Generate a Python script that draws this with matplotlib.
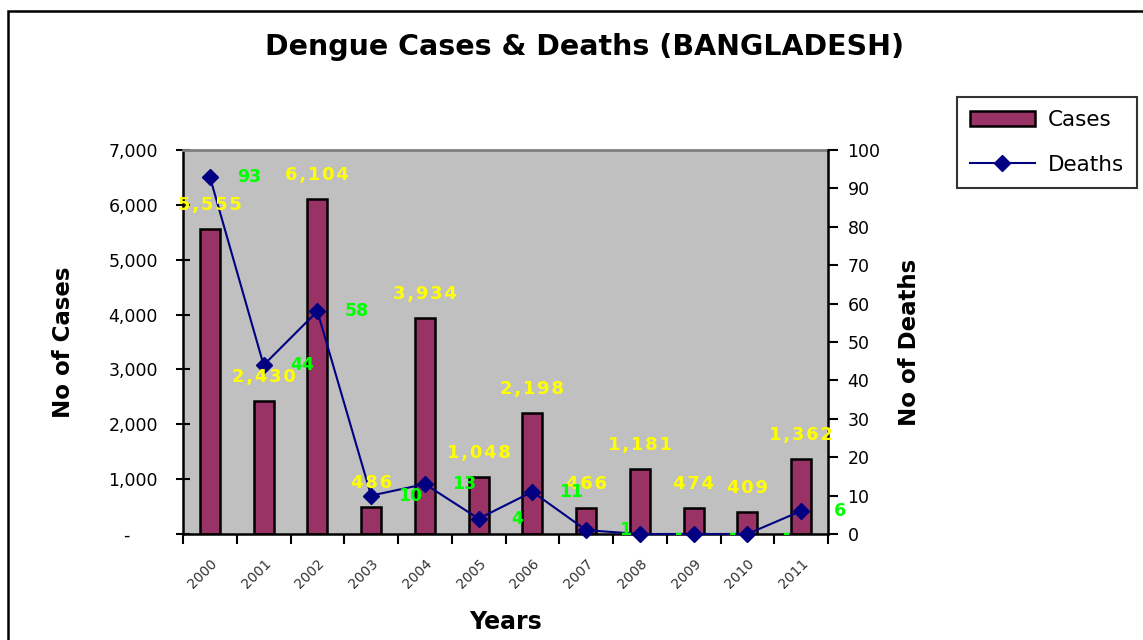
import matplotlib.pyplot as plt
import numpy as np
from matplotlib.patches import Rectangle

# Datos
years = ['2000', '2001', '2002', '2003', '2004', '2005',
         '2006', '2007', '2008', '2009', '2010', '2011']
cases = [5555, 2430, 6104, 486, 3934, 1048, 2198, 466, 1181, 474, 409, 1362]
deaths = [93, 44, 58, 10, 13, 4, 11, 1, 0, 0, 0, 6]
case_ticks = [0, 1000, 2000, 3000, 4000, 5000, 6000, 7000]
death_ticks = [0, 10, 20, 30, 40, 50, 60, 70, 80, 90, 100]

plt.rcParams['font.family'] = ['DejaVu Sans']

fig = plt.figure(figsize=(11.43, 6.4), dpi=100)
ax = fig.add_axes([183 / 1143, 1 - 534 / 640, 645 / 1143, 384 / 640])
ax.set_facecolor('#C0C0C0')

x = np.arange(len(years))
ax.bar(x, cases, width=0.37, color='#993366', edgecolor='black',
       linewidth=1.8, label='Cases', zorder=2)
ax.set_xlim(-0.5, len(years) - 0.5)
ax.set_ylim(0, 7000)
ax.set_yticks(case_ticks)
# formato contable: el cero es un guion
ax.set_yticklabels(['-     ' if v == 0 else f'{v:,}' for v in case_ticks], fontsize=12.5)
ax.tick_params(axis='y', direction='inout', length=10, width=1.5, pad=13)

# ticks del eje x en los bordes de categoria, etiquetas en el centro
ax.set_xticks(np.arange(-0.5, len(years), 1))
ax.set_xticklabels([])
ax.tick_params(axis='x', which='major', direction='out', length=7, width=1.5)
ax.set_xticks(x, minor=True)
ax.set_xticklabels(years, minor=True, rotation=45, ha='right',
                   rotation_mode='anchor', fontsize=10, color='#333333')
ax.tick_params(axis='x', which='minor', length=0, pad=16)

for s in ['left', 'bottom']:
    ax.spines[s].set_linewidth(1.8)
ax.spines['top'].set_color('#808080')
ax.spines['top'].set_linewidth(2)
ax.spines['right'].set_visible(False)

ax2 = ax.twinx()
ax2.plot(x, deaths, color='#000080', marker='D', markersize=8,
         linewidth=1.5, label='Deaths', zorder=3, clip_on=False)
ax2.set_ylim(0, 100)
ax2.set_yticks(death_ticks)
ax2.tick_params(axis='y', labelsize=12.5, direction='out', length=7, width=1.5, pad=7)
ax2.spines['right'].set_linewidth(1.8)
for s in ['left', 'top', 'bottom']:
    ax2.spines[s].set_visible(False)

# etiquetas de valores
for xi, c in zip(x, cases):
    txt = '\u200a'.join(f'{c:,}')
    ax2.annotate(txt, (xi, c * 100 / 7000), xytext=(0, 24), textcoords='offset pixels',
                 ha='center', va='center', color='#FFFF00', fontweight='bold',
                 fontsize=13, zorder=5)
for xi, d in zip(x, deaths):
    ax2.annotate('-' if d == 0 else str(d), (xi, d), xytext=(39, 0),
                 textcoords='offset pixels', ha='center', va='center',
                 color='#00FF00', fontweight='bold', fontsize=12.5,
                 zorder=5, annotation_clip=False)

ax.set_ylabel('No of Cases', fontsize=16.5, fontweight='bold', labelpad=24)
ax2.set_ylabel('No of Deaths', fontsize=16.5, fontweight='bold', labelpad=13)
ax.set_xlabel('Years', fontsize=17, fontweight='bold', labelpad=14)

fig.suptitle('Dengue Cases & Deaths (BANGLADESH)', x=585 / 1143, y=1 - 47 / 640,
             va='center', fontsize=20.5, fontweight='bold')

h1, l1 = ax.get_legend_handles_labels()
h2, l2 = ax2.get_legend_handles_labels()
leg = fig.legend(h1 + h2, l1 + l2, loc='upper left',
                 bbox_to_anchor=(957 / 1143, 1 - 97 / 640), borderaxespad=0,
                 fontsize=15.5, frameon=True, fancybox=False, edgecolor='black',
                 handlelength=3.0, handletextpad=0.6, labelspacing=1.15,
                 borderpad=0.6)
leg.get_frame().set_linewidth(1.5)

# marco del grafico
fig.patches.append(Rectangle((8 / 1143, -0.1), 1.2, 1.1 - 11 / 640,
                             transform=fig.transFigure, fill=False,
                             edgecolor='black', linewidth=1.8))

plt.savefig('out.png', dpi=100)
